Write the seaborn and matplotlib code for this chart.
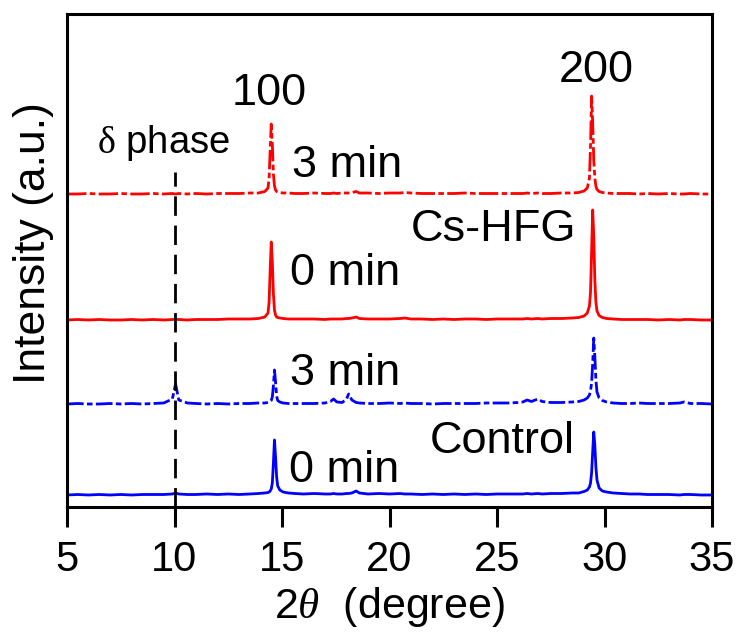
import numpy as np
import pandas as pd
import matplotlib
matplotlib.use("Agg")
import matplotlib.pyplot as plt
import seaborn as sns

# ---------------- data ----------------
two_theta = [
    5.0, 5.5, 6.0, 6.5, 7.0, 7.5, 8.0, 8.5, 9.0, 9.5,
    9.9, 10.05, 10.2, 10.6, 11.0, 11.5, 12.0, 12.5, 13.0, 13.5, 13.9,
    14.2, 14.35, 14.4, 14.45, 14.5, 14.55, 14.6, 14.65, 14.7, 14.75, 14.8, 14.9, 15.05, 15.3, 15.6,
    16.0, 16.5, 17.0, 17.25, 17.4, 17.55, 17.8, 18.0, 18.1, 18.25, 18.45, 18.6, 19.0, 19.5, 20.0, 20.5, 20.7,
    21.0, 21.5, 22.0, 22.5, 23.0, 23.5, 24.0, 24.5, 25.0, 25.5, 26.0, 26.2, 26.4, 26.6, 26.9, 27.1, 27.5, 28.0, 28.5,
    28.8, 29.05, 29.2, 29.3, 29.35, 29.4, 29.45, 29.5, 29.55, 29.6, 29.65, 29.75, 29.9, 30.1, 30.4,
    30.8, 31.2, 31.6, 32.0, 32.5, 33.0, 33.5, 33.7, 34.0, 34.5, 35.0,
]

control_0min = [
    12, 12.5, 12, 12.5, 12, 12.5, 12, 12.5, 12.5, 12.5,
    13, 14, 13, 12.5, 12.5, 13, 12.5, 13, 12.5, 13, 13.5,
    14, 14.5, 15, 16, 18, 24, 44, 67, 50, 30, 21, 17, 15, 14, 13.5,
    13, 13.5, 13, 13, 13.5, 13, 13, 13.5, 13.5, 14, 16, 14, 13, 13.5, 13, 13.5, 13,
    13, 12.5, 13, 12.5, 13, 12.5, 13, 12.5, 13, 13, 13, 13, 13.5, 13, 13.5, 13, 13.5, 13.5, 14,
    14, 15.5, 17, 20, 24, 34, 55, 75, 62, 40, 27, 19, 16, 15, 14,
    13.5, 13, 13, 12.5, 12.5, 12.5, 12, 12.5, 12.5, 12, 12,
]

control_3min = [
    12, 12.5, 12, 12, 12.5, 12, 12.5, 12, 12.5, 13,
    17, 32, 16, 13, 12.5, 12, 12.5, 12, 12.5, 12.5, 13,
    13, 13.5, 14, 14.5, 15.5, 19, 30, 46, 34, 20, 15.5, 14, 13, 12.5, 12.5,
    12.5, 12.5, 13, 14.5, 17, 14, 13.5, 17, 22, 16, 13.5, 13, 12.5, 12.5, 13, 12.5, 13,
    12.5, 12.5, 12, 12.5, 12.5, 12.5, 12.5, 13, 13, 13, 13.5, 14, 16, 14.5, 17, 14.5, 13.5, 13.5, 14,
    14.5, 16, 18, 21, 25, 33, 52, 78, 60, 36, 24, 18, 15.5, 14, 13,
    12.5, 12.5, 13, 12.5, 12.5, 12.5, 13, 14, 12.5, 12.5, 12,
]

cshfg_0min = [
    12, 12.5, 12, 12.5, 12, 12, 12.5, 12, 12.5, 12,
    12.5, 12.5, 12.5, 12, 12.5, 12.5, 12.5, 13, 13, 13, 13.5,
    15, 19, 30, 62, 90, 70, 38, 22, 17, 15, 14.5, 14, 13.5, 13, 13,
    13, 13, 12.5, 13, 13, 13, 13, 13.5, 13.5, 14, 15, 13.5, 13, 13, 13, 13.5, 14,
    13, 13, 12.5, 13, 12.5, 13, 13, 12.5, 13, 13, 13, 13, 13.5, 13, 13.5, 13, 13.5, 13.5, 14,
    14.5, 16, 19, 26, 40, 80, 122, 96, 52, 30, 21, 16.5, 14.5, 13.5, 13,
    12.5, 12.5, 12.5, 12.5, 12, 12.5, 12, 12.5, 12.5, 12, 12,
]

cshfg_3min = [
    12, 12, 12.5, 12, 12, 12.5, 12, 12, 12.5, 12,
    12.5, 12, 12.5, 12, 12.5, 12, 12.5, 12.5, 12.5, 13, 13,
    14.5, 18, 28, 56, 82, 62, 32, 20, 16, 14.5, 14, 13.5, 13, 13, 12.5,
    12.5, 13, 12.5, 12.5, 13, 12.5, 13, 13, 13, 13.5, 14.5, 13, 13, 12.5, 13, 13, 13.5,
    13, 12.5, 12.5, 12.5, 12.5, 13, 12.5, 12.5, 12.5, 12.5, 12.5, 12.5, 13, 12.5, 13, 12.5, 12.5, 13, 13,
    13.5, 15, 18, 28, 60, 110, 84, 46, 28, 20, 16.5, 14.5, 13.5, 13, 12.5,
    12.5, 12.5, 12, 12.5, 12, 12.5, 12, 12, 12.5, 12, 12,
]

samples = ["Control 0 min", "Control 3 min", "Cs-HFG 0 min", "Cs-HFG 3 min"]
offsets = [0, 91, 175, 301]
colors = ["#0000ff", "#0000ff", "#ff0000", "#ff0000"]
dash_patterns = ["", (6, 1.2, 2, 1.2), "", (7, 1.2, 2, 1.2)]

x_ticks = [5, 10, 15, 20, 25, 30, 35]
delta_phase_x = 10.0
delta_phase_top = 335

# annotation labels: (text, x, y, ha)
labels = [
    ("100", 14.4, 402, "center"),
    ("200", 29.6, 425, "center"),
    ("3 min", 15.45, 330, "left"),
    ("Cs-HFG", 21.0, 266, "left"),
    ("0 min", 15.37, 222, "left"),
    ("3 min", 15.37, 122, "left"),
    ("Control", 21.85, 54, "left"),
    ("0 min", 15.33, 25, "left"),
]

# ---------------- build table ----------------
series = [control_0min, control_3min, cshfg_0min, cshfg_3min]
for s in series:
    assert len(s) == len(two_theta)
wide = pd.DataFrame({"two_theta": two_theta})
for name, vals, off in zip(samples, series, offsets):
    wide[name] = np.array(vals, dtype=float) + off
long = wide.melt(id_vars="two_theta", var_name="sample", value_name="shifted")

# ---------------- style ----------------
sns.set_style("ticks")
plt.rcParams["font.family"] = ["Liberation Sans", "DejaVu Sans"]
plt.rcParams["mathtext.fontset"] = "custom"
plt.rcParams["mathtext.it"] = "Liberation Serif:italic"
plt.rcParams["mathtext.rm"] = "Liberation Serif"
for key in ["text.color", "axes.labelcolor", "xtick.color", "ytick.color", "axes.edgecolor"]:
    plt.rcParams[key] = "black"

fig = plt.figure(figsize=(7.42, 6.36), dpi=100)
ax = fig.add_axes([67 / 742, 1 - 507 / 636, (712 - 67) / 742, (507 - 14) / 636])

sns.lineplot(
    data=long, x="two_theta", y="shifted", hue="sample", style="sample",
    hue_order=samples, style_order=samples,
    palette=dict(zip(samples, colors)),
    dashes=dict(zip(samples, dash_patterns)),
    linewidth=2.0, estimator=None, sort=False, legend=False, ax=ax,
)

ax.vlines(delta_phase_x, 0, delta_phase_top, colors="black",
          linestyles=(0, (7, 3.5)), linewidth=2.0)

ax.set_xlim(5, 35)
ax.set_ylim(0, 493)
ax.set_xticks(x_ticks)
ax.set_yticks([])
ax.tick_params(axis="x", direction="out", length=14.5, width=2.2,
               labelsize=30, pad=9)
for sp in ax.spines.values():
    sp.set_linewidth(2.2)
    sp.set_visible(True)

ax.set_xlabel(r"2$\theta$  (degree)", fontsize=31, labelpad=4)
ax.set_ylabel("Intensity (a.u.)", fontsize=32)
ax.yaxis.set_label_coords(-0.02, 0.535)

for txt, x, y, ha in labels:
    ax.text(x, y, txt, fontsize=32.5, ha=ha, va="baseline")
ax.text(6.40, 354, r"$\mathrm{\delta}$ phase", fontsize=27.5, ha="left", va="baseline")

fig.savefig("out.png", dpi=100)
